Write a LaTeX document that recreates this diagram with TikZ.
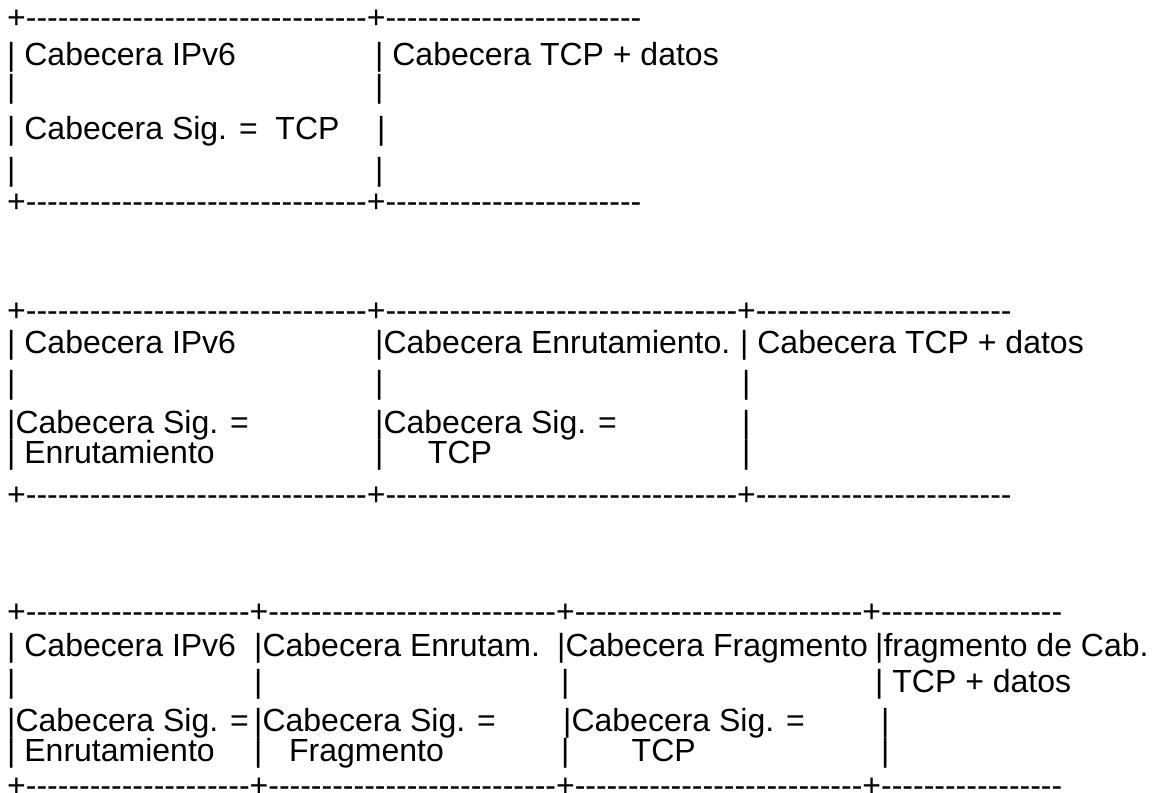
\documentclass[tikz,border=0pt]{standalone}
\usepackage{fontspec}
\setmainfont{Liberation Sans}[Ligatures=TeXOff]
\usetikzlibrary{positioning}

\newcommand{\dashrun}[1]{\foreach \k in {1,...,#1}{-}}
\newcommand{\segrule}[1]{+\dashrun{#1}}

\tikzset{ascii/.style={anchor=base west,inner sep=0pt,font=\fontsize{32}{38}\selectfont}}

\begin{document}
\begin{tikzpicture}[x=1pt,y=-1pt]
            \useasboundingbox (0,0) rectangle (1158,792);

            \node[ascii] (atop) at (7,29) {\segrule{32}\segrule{24}};
            \node[ascii] (aipv) at (7,66) {| Cabecera IPv6};
            \node[ascii] (atcp) at (375,66) {| Cabecera TCP + datos};
            \node[ascii] (abarl) at (7,97) {|};
            \node[ascii] (abarr) at (375,97) {|};
            \node[ascii] (asig) at (7,139) {| Cabecera Sig. =~~TCP};
            \node[ascii] (asigr) at (377,139) {|};
            \node[ascii] (abarl2) at (7,180) {|};
            \node[ascii] (abarr2) at (375,180) {|};
            \node[ascii] (abot) at (7,212) {\segrule{32}\segrule{24}};

            \node[ascii] (btop) at (7,321) {\segrule{32}\segrule{33}\segrule{24}};
            \node[ascii] (bipv) at (7,353) {| Cabecera IPv6};
            \node[ascii] (benr) at (375,353) {|Cabecera Enrutamiento.};
            \node[ascii] (btcp) at (740,353) {| Cabecera TCP + datos};
            \node[ascii] (bbar1) at (7,393) {|};
            \node[ascii] (bbar2) at (375,393) {|};
            \node[ascii] (bbar3) at (742,393) {|};
            \node[ascii] (bsig1) at (7,433) {|Cabecera Sig. =};
            \node[ascii] (bsig2) at (375,433) {|Cabecera Sig. =};
            \node[ascii] (bsig3) at (742,433) {|};
            \node[ascii] (bval1) at (7,463) {| Enrutamiento};
            \node[ascii] (bval2) at (375,463) {|~~~~~TCP};
            \node[ascii] (bval3) at (742,463) {|};
            \node[ascii] (bbot) at (7,505) {\segrule{32}\segrule{33}\segrule{24}};

            \node[ascii] (ctop) at (7,622) {\segrule{21}\segrule{27}\segrule{27}\segrule{17}};
            \node[ascii] (cipv) at (7,656) {| Cabecera IPv6};
            \node[ascii] (cenr) at (254,656) {|Cabecera Enrutam.};
            \node[ascii] (cfrg) at (557,656) {|Cabecera Fragmento};
            \node[ascii] (ccab) at (875,656) {|fragmento de Cab.};
            \node[ascii] (cbar1) at (7,692) {|};
            \node[ascii] (cbar2) at (254,692) {|};
            \node[ascii] (cbar3) at (561,692) {|};
            \node[ascii] (ctcp) at (875,692) {| TCP + datos};
            \node[ascii] (csig1) at (7,731) {|Cabecera Sig. =};
            \node[ascii] (csig2) at (254,731) {|Cabecera Sig. =};
            \node[ascii] (csig3) at (563,731) {|Cabecera Sig. =};
            \node[ascii] (csig4) at (881,731) {|};
            \node[ascii] (cval1) at (7,761) {| Enrutamiento};
            \node[ascii] (cval2) at (254,761) {|~~~Fragmento};
            \node[ascii] (cval3) at (561,761) {|~~~~~~~TCP};
            \node[ascii] (cval4) at (881,761) {|};
            \node[ascii] (cbot) at (7,796) {\segrule{21}\segrule{27}\segrule{27}\segrule{17}};
        \end{tikzpicture}
\end{document}
